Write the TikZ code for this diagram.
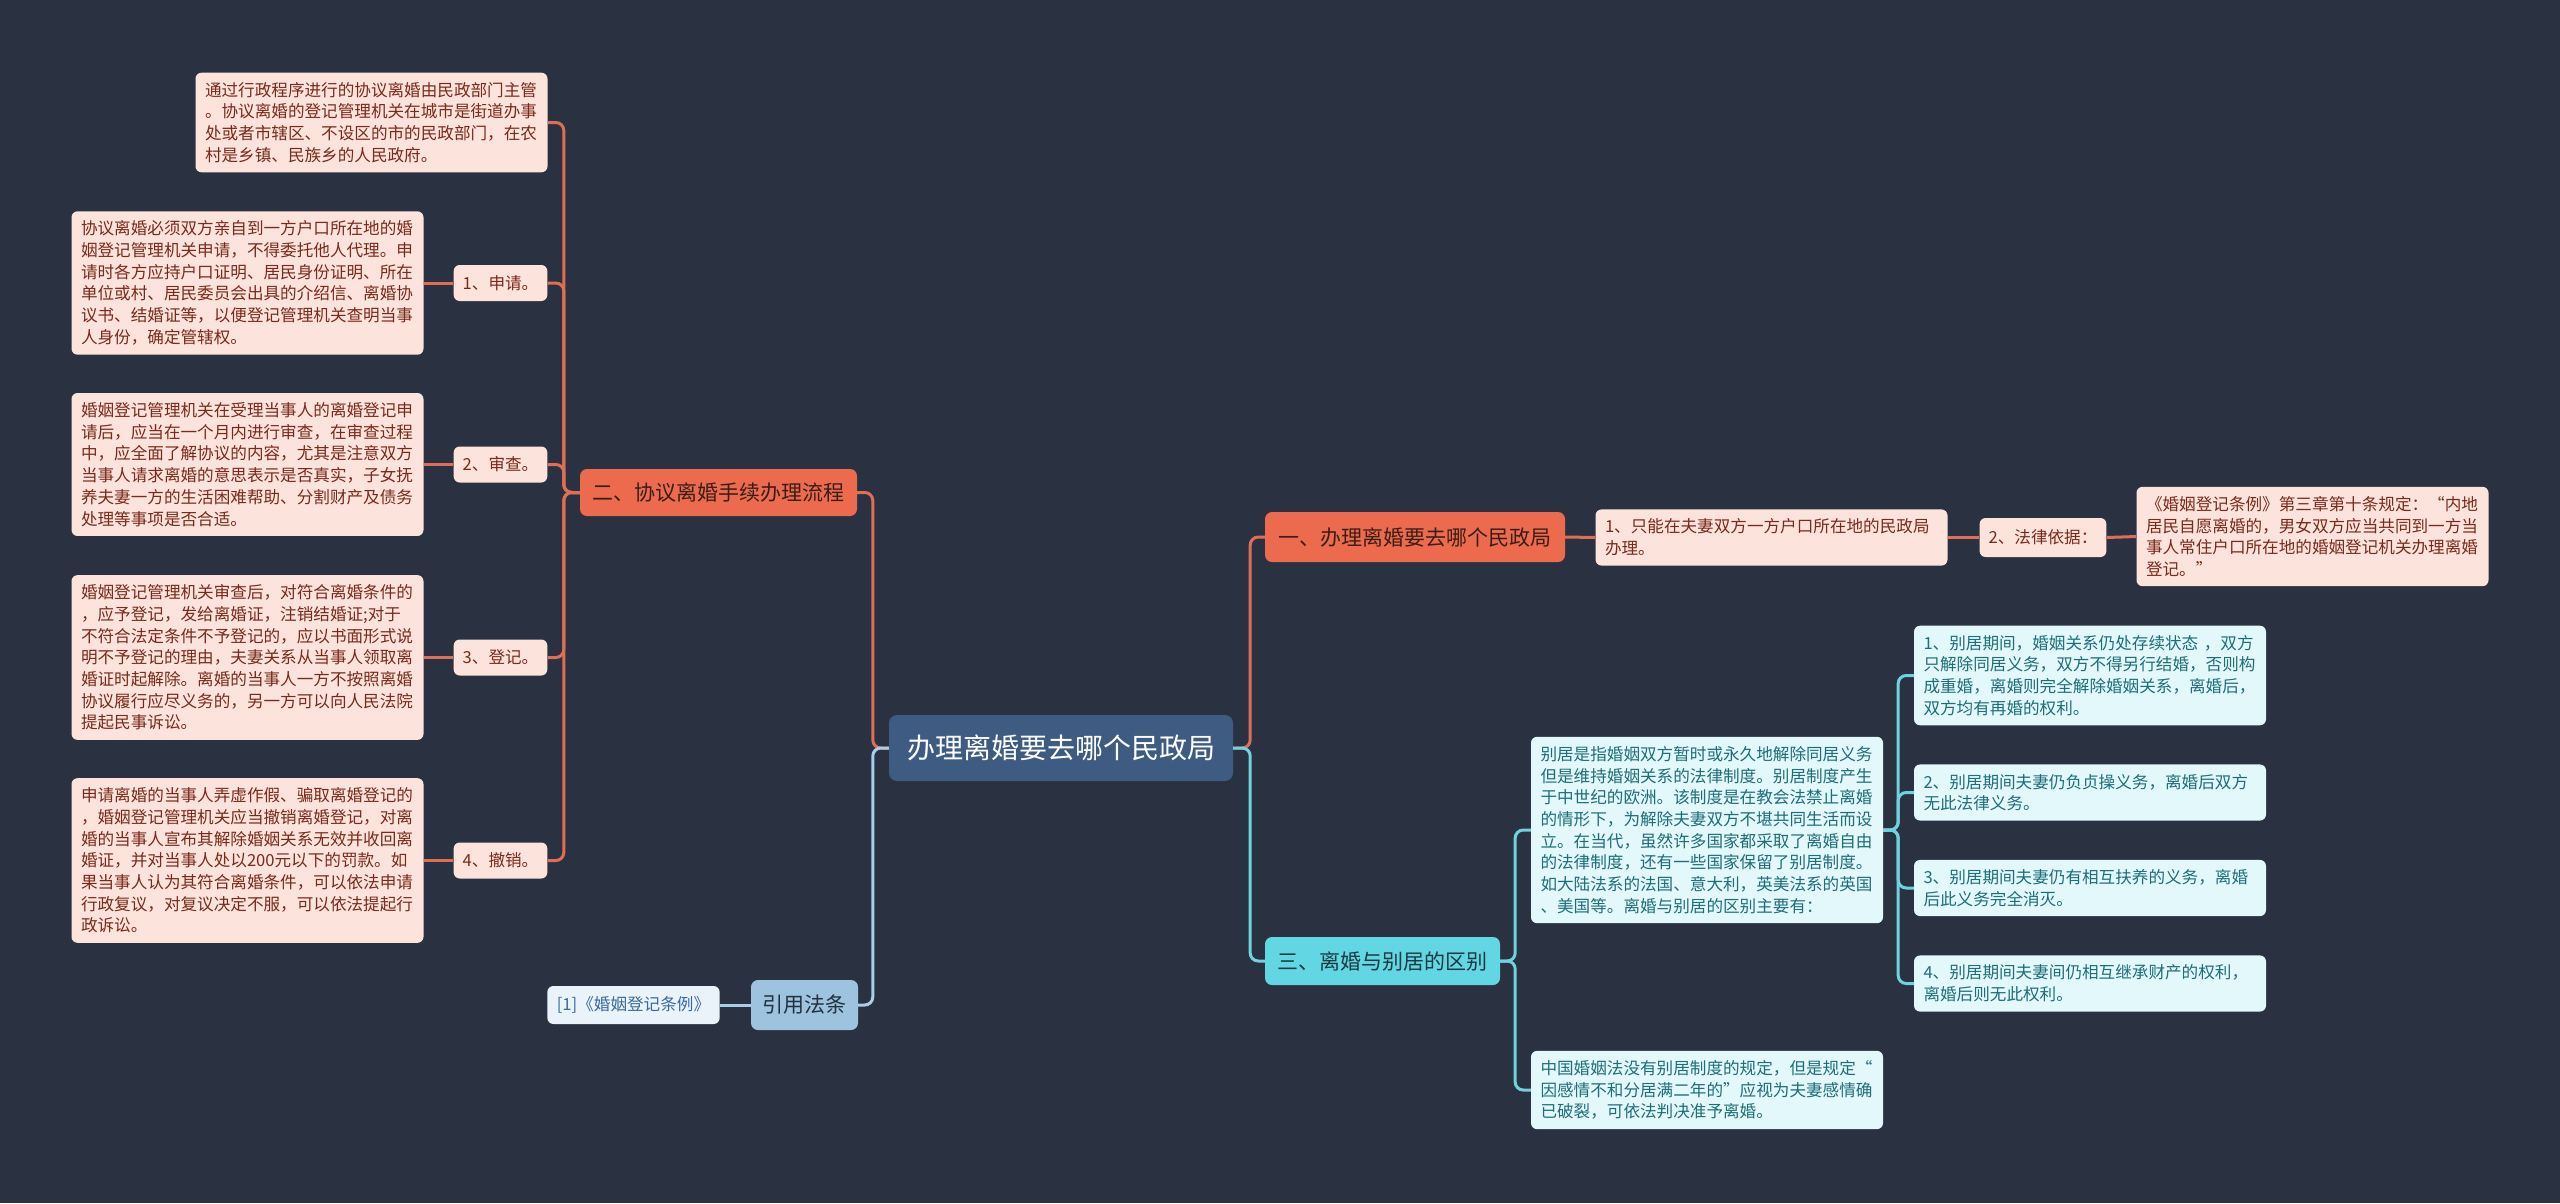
\documentclass[tikz,border=0pt]{standalone}
\usepackage{fontspec}
\setmainfont{Noto Sans CJK SC}
\definecolor{bg}{HTML}{2A3140}
\definecolor{salfill}{HTML}{EC6B4F}
\definecolor{saltext}{HTML}{3A1E16}
\definecolor{salline}{HTML}{E06D55}
\definecolor{pinkfill}{HTML}{FCE4DC}
\definecolor{pinktext}{HTML}{7A2A1A}
\definecolor{ctrfill}{HTML}{3E5C82}
\definecolor{cyfill}{HTML}{62D6E3}
\definecolor{cytext}{HTML}{1C3B40}
\definecolor{cyline}{HTML}{6ED2DF}
\definecolor{cybox}{HTML}{E2F8FA}
\definecolor{cyboxtext}{HTML}{1E6E78}
\definecolor{blfill}{HTML}{9DC3DE}
\definecolor{bltext}{HTML}{23303D}
\definecolor{blline}{HTML}{A9CDE6}
\definecolor{blbox}{HTML}{EAF3FA}
\definecolor{blboxtext}{HTML}{3A6A9C}
\begin{document}
\begin{tikzpicture}[x=1pt,y=-1pt,
  small/.style={font=\fontsize{16.6pt}{21.7pt}\selectfont},
  detail/.style={small, rounded corners=6pt, inner xsep=9.5pt, inner ysep=9.5pt, text width=333pt, align=left},
  pinkbox/.style={detail, fill=pinkfill, text=pinktext},
  cyanbox/.style={detail, fill=cybox, text=cyboxtext},
  pinklabel/.style={small, rounded corners=6pt, fill=pinkfill, text=pinktext, inner xsep=9pt, minimum height=36pt},
  mainnode/.style={font=\fontsize{21pt}{26pt}\selectfont, rounded corners=7pt, inner xsep=10pt, minimum height=48pt},
  salmain/.style={mainnode, fill=salfill, text=saltext},
  cyanmain/.style={mainnode, fill=cyfill, text=cytext},
  bluemain/.style={mainnode, fill=blfill, text=bltext, minimum height=50pt},
  bluebox/.style={small, rounded corners=6pt, fill=blbox, text=blboxtext, inner xsep=9.5pt, minimum height=38pt},
  ctrnode/.style={font=\fontsize{28pt}{32pt}\selectfont, rounded corners=8pt, fill=ctrfill, text=white, minimum width=344pt, minimum height=66pt},
  conn/.style={line width=3pt, rounded corners=8pt},
  lsal/.style={conn, draw=salline},
  lcy/.style={conn, draw=cyline},
  lbl/.style={conn, draw=blline}
]
\fill[bg] (0,0) rectangle (2560,1203);
\useasboundingbox (0,0) rectangle (2560,1203);

% centre
\node[ctrnode] (ctr) at (1061,748) {办理离婚要去哪个民政局};

% left branch
\node[salmain, minimum width=277pt, minimum height=47pt] (er) at (718.5,492.5) {二、协议离婚手续办理流程};
\node[pinkbox] (L1) at (371.5,122.5) {通过行政程序进行的协议离婚由民政部门主管\\。协议离婚的登记管理机关在城市是街道办事\\处或者市辖区、不设区的市的民政部门，在农\\村是乡镇、民族乡的人民政府。};
\node[pinkbox] (L2) at (247.5,283) {协议离婚必须双方亲自到一方户口所在地的婚\\姻登记管理机关申请，不得委托他人代理。申\\请时各方应持户口证明、居民身份证明、所在\\单位或村、居民委员会出具的介绍信、离婚协\\议书、结婚证等，以便登记管理机关查明当事\\人身份，确定管辖权。};
\node[pinkbox] (L3) at (247.5,464.5) {婚姻登记管理机关在受理当事人的离婚登记申\\请后，应当在一个月内进行审查，在审查过程\\中，应全面了解协议的内容，尤其是注意双方\\当事人请求离婚的意思表示是否真实，子女抚\\养夫妻一方的生活困难帮助、分割财产及债务\\处理等事项是否合适。};
\node[pinkbox] (L4) at (247.5,657.5) {婚姻登记管理机关审查后，对符合离婚条件的\\，应予登记，发给离婚证，注销结婚证;对于\\不符合法定条件不予登记的，应以书面形式说\\明不予登记的理由，夫妻关系从当事人领取离\\婚证时起解除。离婚的当事人一方不按照离婚\\协议履行应尽义务的，另一方可以向人民法院\\提起民事诉讼。};
\node[pinkbox] (L5) at (247.5,860.5) {申请离婚的当事人弄虚作假、骗取离婚登记的\\，婚姻登记管理机关应当撤销离婚登记，对离\\婚的当事人宣布其解除婚姻关系无效并收回离\\婚证，并对当事人处以200元以下的罚款。如\\果当事人认为其符合离婚条件，可以依法申请\\行政复议，对复议决定不服，可以依法提起行\\政诉讼。};
\node[pinklabel] (s1) at (500.5,283) {1、申请。};
\node[pinklabel] (s2) at (500.5,464.5) {2、审查。};
\node[pinklabel] (s3) at (500.5,657.5) {3、登记。};
\node[pinklabel] (s4) at (500.5,860.5) {4、撤销。};

\node[bluemain, minimum width=107pt] (yy) at (804.5,1005) {引用法条};
\node[bluebox] (yy1) at (633.5,1005) {[1]《婚姻登记条例》};

% right branch
\node[salmain, minimum width=300pt, minimum height=50pt] (yi) at (1415,537) {一、办理离婚要去哪个民政局};
\node[pinkbox] (yia) at (1771.5,537.5) {1、只能在夫妻双方一方户口所在地的民政局\\办理。};
\node[pinklabel, minimum height=39pt] (yib) at (2043,537.5) {2、法律依据：};
\node[pinkbox] (yic) at (2312.5,536.5) {《婚姻登记条例》第三章第十条规定：“内地\\居民自愿离婚的，男女双方应当共同到一方当\\事人常住户口所在地的婚姻登记机关办理离婚\\登记。”};

\node[cyanmain, minimum width=235pt] (san) at (1382.5,961) {三、离婚与别居的区别};
\node[cyanbox] (bj) at (1707,830) {别居是指婚姻双方暂时或永久地解除同居义务\\但是维持婚姻关系的法律制度。别居制度产生\\于中世纪的欧洲。该制度是在教会法禁止离婚\\的情形下，为解除夫妻双方不堪共同生活而设\\立。在当代，虽然许多国家都采取了离婚自由\\的法律制度，还有一些国家保留了别居制度。\\如大陆法系的法国、意大利，英美法系的英国\\、美国等。离婚与别居的区别主要有：};
\node[cyanbox] (zg) at (1707,1090) {中国婚姻法没有别居制度的规定，但是规定“\\因感情不和分居满二年的”应视为夫妻感情确\\已破裂，可依法判决准予离婚。};
\node[cyanbox] (r1) at (2090,675.5) {1、别居期间，婚姻关系仍处存续状态 ，双方\\只解除同居义务，双方不得另行结婚，否则构\\成重婚，离婚则完全解除婚姻关系，离婚后，\\双方均有再婚的权利。};
\node[cyanbox] (r2) at (2090,792.5) {2、别居期间夫妻仍负贞操义务，离婚后双方\\无此法律义务。};
\node[cyanbox] (r3) at (2090,888) {3、别居期间夫妻仍有相互扶养的义务，离婚\\后此义务完全消灭。};
\node[cyanbox] (r4) at (2090,983.5) {4、别居期间夫妻间仍相互继承财产的权利，\\离婚后则无此权利。};

% connectors
\begin{scope}[on background layer/.style={}]
\draw[lsal] (ctr.west) -- ++(-16,0) |- (er.east);
\draw[lbl] (ctr.west) -- ++(-16,0) |- (yy.east);
\draw[lbl] (yy.west) -- (yy1.east);
\foreach \c in {L1,s1,s2,s3,s4} \draw[lsal] (er.west) -- ++(-16,0) |- (\c.east);
\draw[lsal] (s1.west) -- (L2.east);
\draw[lsal] (s2.west) -- (L3.east);
\draw[lsal] (s3.west) -- (L4.east);
\draw[lsal] (s4.west) -- (L5.east);

\draw[lsal] (ctr.east) -- ++(17,0) |- (yi.west);
\draw[lcy] (ctr.east) -- ++(17,0) |- (san.west);
\draw[lsal] (yi.east) -- (yia.west);
\draw[lsal] (yia.east) -- (yib.west);
\draw[lsal] (yib.east) -- (yic.west);
\draw[lcy] (san.east) -- ++(15,0) |- (bj.west);
\draw[lcy] (san.east) -- ++(15,0) |- (zg.west);
\foreach \c in {r1,r2,r3,r4} \draw[lcy] (bj.east) -- ++(15,0) |- (\c.west);
\end{scope}
\end{tikzpicture}
\end{document}
